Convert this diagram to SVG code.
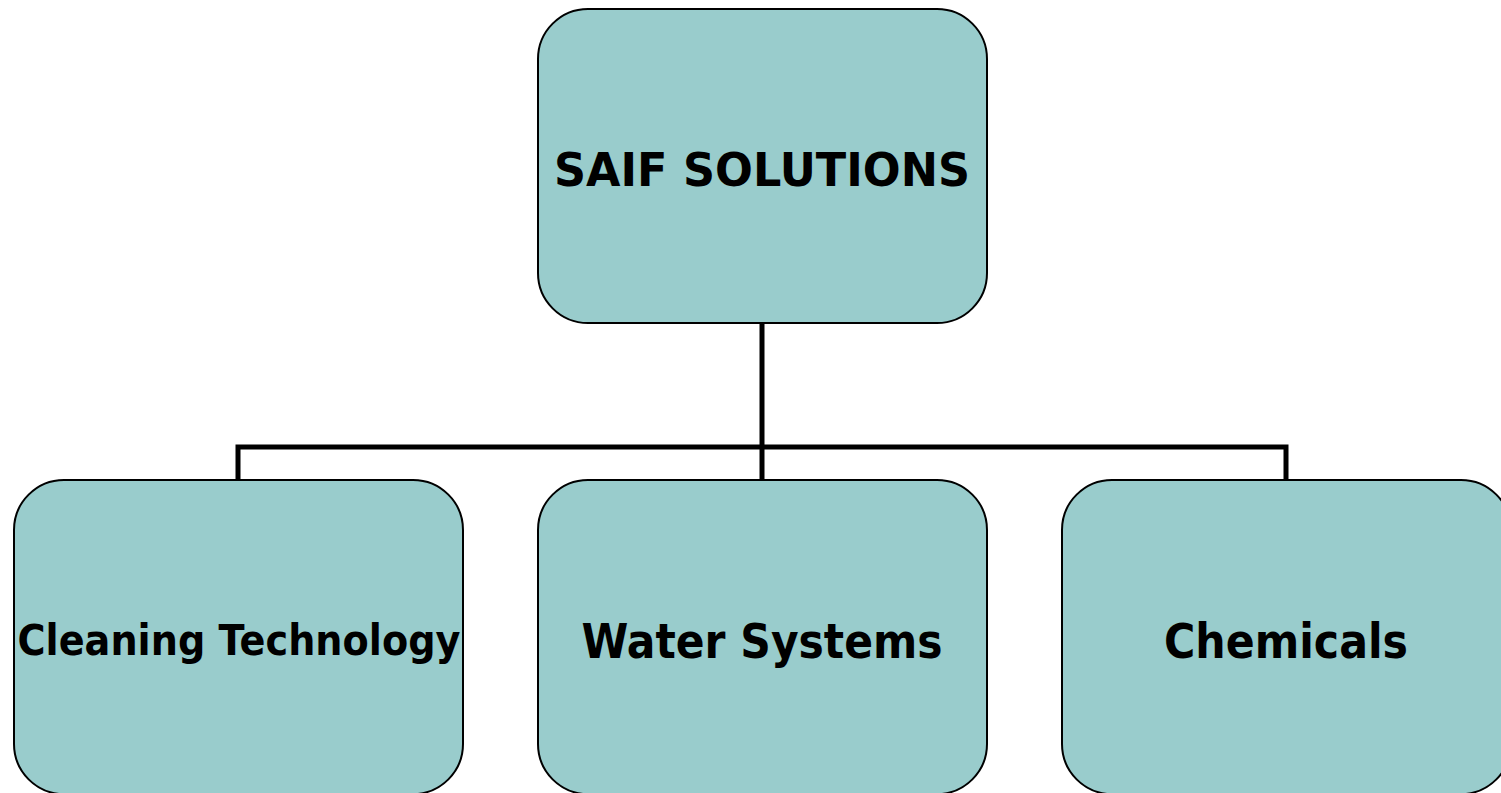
<svg xmlns="http://www.w3.org/2000/svg" width="1501" height="793" viewBox="0 0 1501 793">
<style>
.box{fill:#99cccc;stroke:#000;stroke-width:2}
.lbl{font-family:Tahoma,"DejaVu Sans","Liberation Sans",sans-serif;font-weight:bold;fill:#000;text-anchor:middle}
.conn{fill:none;stroke:#000;stroke-width:5}
</style>
<rect width="1501" height="793" fill="#fff"/>
<g id="connectors">
<path class="conn" d="M762,323 V447 M238,480 V447 H1286 V480 M762,447 V480"/>
</g>
<g id="node-saif">
<rect class="box" x="538" y="9" width="449" height="314" rx="50" ry="50"/>
<text class="lbl" x="762" y="186" font-size="47" textLength="416" lengthAdjust="spacingAndGlyphs">SAIF SOLUTIONS</text>
</g>
<g id="node-cleaning">
<rect class="box" x="14" y="480" width="449" height="314" rx="50" ry="50"/>
<text class="lbl" x="239" y="655" font-size="43" textLength="443" lengthAdjust="spacingAndGlyphs">Cleaning Technology</text>
</g>
<g id="node-water">
<rect class="box" x="538" y="480" width="449" height="314" rx="50" ry="50"/>
<text class="lbl" x="762" y="658" font-size="48" textLength="361" lengthAdjust="spacingAndGlyphs">Water Systems</text>
</g>
<g id="node-chemicals">
<rect class="box" x="1062" y="480" width="449" height="314" rx="50" ry="50"/>
<text class="lbl" x="1286" y="658" font-size="48" textLength="244" lengthAdjust="spacingAndGlyphs">Chemicals</text>
</g>
</svg>
